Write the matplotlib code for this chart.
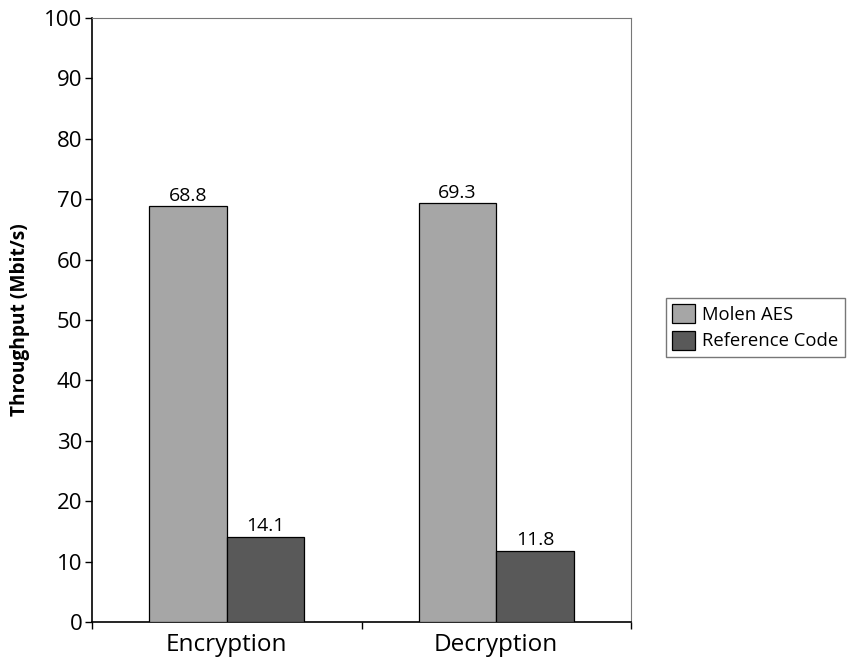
import matplotlib.pyplot as plt
import numpy as np

categories = ["Encryption", "Decryption"]
series_names = ["Molen AES", "Reference Code"]
molen_aes = [68.8, 69.3]
reference_code = [14.1, 11.8]

plt.rcParams["font.family"] = ["Open Sans", "DejaVu Sans"]

fig = plt.figure(figsize=(8.47, 6.59), dpi=100)
ax = fig.add_axes([92 / 847, 37 / 659, 539 / 847, 604 / 659])

x = np.arange(len(categories))
w = 0.287
colors = ["#a6a6a6", "#595959"]
for i, (name, vals) in enumerate(zip(series_names, [molen_aes, reference_code])):
    off = (i - 0.5) * w
    bars = ax.bar(x + off, vals, w, color=colors[i], edgecolor="black",
                  linewidth=0.9, label=name, zorder=3)
    for b, v in zip(bars, vals):
        ax.text(b.get_x() + b.get_width() / 2, v + 0.3, f"{v:.1f}",
                ha="center", va="bottom", fontsize=14)

ax.set_xlim(-0.5, 1.5)
ax.set_ylim(0, 100)
ax.set_yticks(range(0, 101, 10))
ax.tick_params(axis="y", labelsize=16, length=5, width=1, pad=2)
ax.set_xticks(x)
ax.set_xticklabels(categories, fontsize=17.5)
ax.tick_params(axis="x", which="major", length=0, pad=8)
ax.set_xticks([-0.5, 0.5, 1.5], minor=True)
ax.tick_params(axis="x", which="minor", length=5, width=1)
ax.set_ylabel("Throughput (Mbit/s)", fontsize=13.8, fontweight="bold", labelpad=10)

ax.spines["left"].set_linewidth(1.2)
ax.spines["bottom"].set_linewidth(1.2)
for s in ["top", "right"]:
    ax.spines[s].set_color("#777777")
    ax.spines[s].set_linewidth(0.8)

fig.legend(loc="upper left", bbox_to_anchor=(666 / 847, 1 - 298 / 659),
           fontsize=13.3, frameon=True, fancybox=False, edgecolor="#555555",
           handlelength=1.2, handleheight=1.2, handletextpad=0.4,
           borderpad=0.35, labelspacing=0.35, borderaxespad=0)

plt.savefig("out.png", dpi=100)
